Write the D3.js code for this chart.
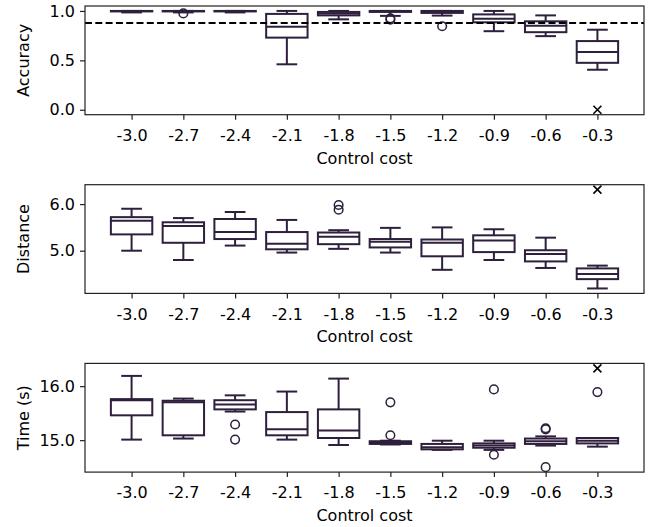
<!DOCTYPE html>
<html>
<head>
<meta charset="utf-8">
<script src="https://cdn.jsdelivr.net/npm/d3@7"></script>
<style>
  body { margin: 0; background: #fff; }
  text { font-family: "DejaVu Sans", sans-serif; fill: #000; }
</style>
</head>
<body>
<script>
// x categories (control cost)
var costs = ["-3.0", "-2.7", "-2.4", "-2.1", "-1.8", "-1.5", "-1.2", "-0.9", "-0.6", "-0.3"];

// Accuracy boxes
var accLow  = [0.985, 0.985, 0.985, 0.46, 0.915, 0.95, 0.953, 0.795, 0.745, 0.405];
var accQ1   = [0.995, 0.995, 0.995, 0.73, 0.955, 0.99, 0.98, 0.885, 0.785, 0.475];
var accMed  = [1.0, 1.0, 1.0, 0.84, 0.975, 1.0, 0.99, 0.92, 0.85, 0.585];
var accQ3   = [1.0, 1.0, 1.0, 0.97, 0.99, 1.0, 1.0, 0.965, 0.895, 0.695];
var accHigh = [1.0, 1.0, 1.0, 1.0, 1.0, 1.0, 1.0, 1.0, 0.955, 0.81];
var accOutliers = [[], [0.975], [], [], [], [0.925, 0.912], [0.845], [], [], []];
var accCross = [{ cost: "-0.3", value: 0.0 }];
var accThreshold = 0.878;

// Distance boxes
var distLow  = [5.0, 4.80, 5.11, 4.96, 5.04, 4.96, 4.59, 4.80, 4.63, 4.19];
var distQ1   = [5.35, 5.17, 5.25, 5.03, 5.14, 5.07, 4.88, 4.97, 4.77, 4.39];
var distMed  = [5.64, 5.53, 5.40, 5.15, 5.30, 5.19, 5.17, 5.22, 4.93, 4.50];
var distQ3   = [5.72, 5.61, 5.68, 5.40, 5.39, 5.25, 5.24, 5.33, 5.01, 4.62];
var distHigh = [5.90, 5.70, 5.83, 5.66, 5.44, 5.49, 5.50, 5.46, 5.28, 4.68];
var distOutliers = [[], [], [], [], [5.88, 5.98], [], [], [], [], []];
var distCross = [{ cost: "-0.3", value: 6.31 }];

// Time boxes
var timeLow  = [15.01, 15.03, 15.53, 15.01, 14.91, 14.92, 14.82, 14.82, 14.90, 14.88];
var timeQ1   = [15.46, 15.09, 15.57, 15.09, 15.04, 14.93, 14.83, 14.86, 14.93, 14.94];
var timeMed  = [15.74, 15.70, 15.66, 15.20, 15.18, 14.95, 14.87, 14.90, 14.98, 14.99];
var timeQ3   = [15.76, 15.73, 15.74, 15.52, 15.57, 14.98, 14.93, 14.94, 15.03, 15.04];
var timeHigh = [16.19, 15.77, 15.83, 15.90, 16.14, 14.99, 14.99, 14.99, 15.07, 15.04];
var timeOutliers = [[], [], [15.29, 15.01], [], [], [15.70, 15.09], [], [15.94, 14.73], [15.20, 15.22, 14.50], [15.89]];
var timeCross = [{ cost: "-0.3", value: 16.33 }];

var svgWidth = 656;
var svgHeight = 527;
var boxColor = "#2e1f3d";

var svg = d3.select("body")
  .append("svg")
  .attr("width", svgWidth)
  .attr("height", svgHeight);

var x = d3.scaleLinear().domain([-0.9, 9.9]).range([85, 644]);
var boxW = x(0.8) - x(0);

function makeBoxes(low, q1, med, q3, high, outliers) {
  return costs.map(function(c, i) {
    return { i: i, low: low[i], q1: q1[i], med: med[i], q3: q3[i], high: high[i], outliers: outliers[i] };
  });
}

var panels = [
  { label: "Accuracy", boxes: makeBoxes(accLow, accQ1, accMed, accQ3, accHigh, accOutliers),
    cross: accCross, ticks: [0, 0.5, 1.0], threshold: accThreshold },
  { label: "Distance", boxes: makeBoxes(distLow, distQ1, distMed, distQ3, distHigh, distOutliers),
    cross: distCross, ticks: [5.0, 6.0] },
  { label: "Time (s)", boxes: makeBoxes(timeLow, timeQ1, timeMed, timeQ3, timeHigh, timeOutliers),
    cross: timeCross, ticks: [15.0, 16.0] }
];

panels.forEach(function(p, k) {
  var top = 6 + k * 178.7;
  var height = 108.7;
  var bottom = top + height;

  // y domain like matplotlib autoscale: data extent plus 5% margin
  var vals = [];
  p.boxes.forEach(function(b) { vals.push(b.low, b.high); vals = vals.concat(b.outliers); });
  p.cross.forEach(function(c) { vals.push(c.value); });
  var lo = d3.min(vals), hi = d3.max(vals), pad = (hi - lo) * 0.05;
  var y = d3.scaleLinear().domain([lo - pad, hi + pad]).range([bottom, top]);

  var g = svg.append("g");

  var groups = g.selectAll(".box")
    .data(p.boxes)
    .enter()
    .append("g")
    .attr("class", "box");

  // whiskers
  groups.append("line")
    .attr("x1", d => x(d.i)).attr("x2", d => x(d.i))
    .attr("y1", d => y(d.q3)).attr("y2", d => y(d.high))
    .attr("stroke", boxColor).attr("stroke-width", 2);
  groups.append("line")
    .attr("x1", d => x(d.i)).attr("x2", d => x(d.i))
    .attr("y1", d => y(d.q1)).attr("y2", d => y(d.low))
    .attr("stroke", boxColor).attr("stroke-width", 2);
  // caps
  groups.append("line")
    .attr("x1", d => x(d.i) - boxW / 4).attr("x2", d => x(d.i) + boxW / 4)
    .attr("y1", d => y(d.high)).attr("y2", d => y(d.high))
    .attr("stroke", boxColor).attr("stroke-width", 2);
  groups.append("line")
    .attr("x1", d => x(d.i) - boxW / 4).attr("x2", d => x(d.i) + boxW / 4)
    .attr("y1", d => y(d.low)).attr("y2", d => y(d.low))
    .attr("stroke", boxColor).attr("stroke-width", 2);
  // box
  groups.append("rect")
    .attr("x", d => x(d.i) - boxW / 2)
    .attr("width", boxW)
    .attr("y", d => y(d.q3))
    .attr("height", d => y(d.q1) - y(d.q3))
    .attr("fill", "#fff")
    .attr("stroke", boxColor).attr("stroke-width", 2);
  // median
  groups.append("line")
    .attr("x1", d => x(d.i) - boxW / 2).attr("x2", d => x(d.i) + boxW / 2)
    .attr("y1", d => y(d.med)).attr("y2", d => y(d.med))
    .attr("stroke", boxColor).attr("stroke-width", 2);
  // outliers
  groups.selectAll("circle")
    .data(d => d.outliers.map(v => ({ i: d.i, v: v })))
    .enter()
    .append("circle")
    .attr("cx", d => x(d.i))
    .attr("cy", d => y(d.v))
    .attr("r", 4.3)
    .attr("fill", "none")
    .attr("stroke", boxColor).attr("stroke-width", 1.5);

  // x markers
  var cs = 4;
  p.cross.forEach(function(c) {
    var cx = x(costs.indexOf(c.cost)), cy = y(c.value);
    g.append("path")
      .attr("d", `M${cx - cs},${cy - cs}L${cx + cs},${cy + cs}M${cx - cs},${cy + cs}L${cx + cs},${cy - cs}`)
      .attr("stroke", "#000").attr("stroke-width", 1.6);
  });

  // dashed reference line
  if (p.threshold !== undefined) {
    g.append("line")
      .attr("x1", x(-0.9)).attr("x2", x(9.9))
      .attr("y1", y(p.threshold)).attr("y2", y(p.threshold))
      .attr("stroke", "#000").attr("stroke-width", 2)
      .attr("stroke-dasharray", "7,3.3");
  }

  // frame
  g.append("rect")
    .attr("x", x(-0.9)).attr("y", top)
    .attr("width", x(9.9) - x(-0.9)).attr("height", height)
    .attr("fill", "none").attr("stroke", "#222").attr("stroke-width", 1.2);

  // axes
  var bottomAxis = d3.axisBottom(x)
    .tickValues(d3.range(costs.length))
    .tickFormat(i => costs[i])
    .tickSize(5).tickSizeOuter(0).tickPadding(10);
  var xAxis = g.append("g")
    .attr("transform", `translate(0, ${bottom})`)
    .call(bottomAxis);

  var leftAxis = d3.axisLeft(y)
    .tickValues(p.ticks)
    .tickFormat(d3.format(".1f"))
    .tickSize(5).tickSizeOuter(0).tickPadding(5);
  var yAxis = g.append("g")
    .attr("transform", `translate(${x(-0.9)}, 0)`)
    .call(leftAxis);

  [xAxis, yAxis].forEach(function(a) {
    a.select(".domain").remove();
    a.selectAll("line").attr("stroke", "#222").attr("stroke-width", 1.2);
    a.selectAll("text").attr("font-size", "16px").attr("fill", "#000")
      .style("font-family", "'DejaVu Sans', sans-serif");
  });

  g.append("text")
    .attr("x", (x(-0.9) + x(9.9)) / 2)
    .attr("y", bottom + 49)
    .attr("text-anchor", "middle")
    .attr("font-size", "16px")
    .text("Control cost");

  g.append("text")
    .attr("transform", `translate(29, ${(top + bottom) / 2}) rotate(-90)`)
    .attr("text-anchor", "middle")
    .attr("font-size", "16px")
    .text(p.label);
});
</script>
</body>
</html>
